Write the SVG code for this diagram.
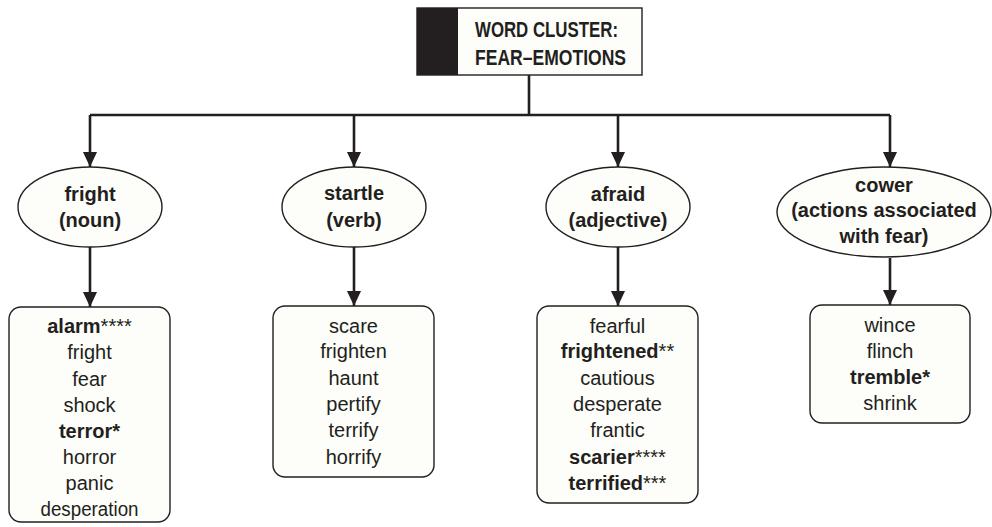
<svg xmlns="http://www.w3.org/2000/svg" width="992" height="527" viewBox="0 0 992 527">
<defs>
<marker id="arr" markerUnits="userSpaceOnUse" markerWidth="16" markerHeight="16" viewBox="0 0 16 16" refX="15" refY="8" orient="auto">
<path d="M0,1 L15,8 L0,15 Z" fill="#231f20"/>
</marker>
<style>
.shape{fill:#fdfdf9;stroke:#231f20;stroke-width:1.4}
.con{fill:none;stroke:#231f20;stroke-width:2.6}
.lbl{font-family:"Liberation Sans",Arial,sans-serif;font-size:20px;font-weight:bold;fill:#231f20;text-anchor:middle}
.w{font-family:"Liberation Sans",Arial,sans-serif;font-size:20px;fill:#231f20;text-anchor:middle}
.b{font-weight:bold}
.title{font-family:"Liberation Sans",Arial,sans-serif;font-size:22px;font-weight:bold;fill:#231f20}
</style>
</defs>
<rect width="992" height="527" fill="#ffffff"/>

<g id="title">
<rect x="417" y="8" width="225" height="67" fill="#fdfdf9" stroke="#231f20" stroke-width="1.4"/>
<rect x="417" y="8" width="41" height="67" fill="#231f20"/>
<text class="title" x="475" y="37" textLength="143" lengthAdjust="spacingAndGlyphs">WORD CLUSTER:</text>
<text class="title" x="475" y="65" textLength="151" lengthAdjust="spacingAndGlyphs">FEAR–EMOTIONS</text>
</g>

<g id="connectors">
<path class="con" d="M529,75 V115 M90,115 H890"/>
<path class="con" d="M90,115 V167" marker-end="url(#arr)"/>
<path class="con" d="M354,115 V167" marker-end="url(#arr)"/>
<path class="con" d="M618,115 V167" marker-end="url(#arr)"/>
<path class="con" d="M890,115 V167" marker-end="url(#arr)"/>
<path class="con" d="M90,247 V307" marker-end="url(#arr)"/>
<path class="con" d="M354,247 V306" marker-end="url(#arr)"/>
<path class="con" d="M618,247 V306" marker-end="url(#arr)"/>
<path class="con" d="M890,258 V305" marker-end="url(#arr)"/>
</g>

<g id="fright">
<ellipse class="shape" cx="90" cy="207" rx="72" ry="40"/>
<text class="lbl" x="90" y="201">fright</text>
<text class="lbl" x="90" y="227">(noun)</text>
</g>
<g id="startle">
<ellipse class="shape" cx="354" cy="207" rx="72" ry="40"/>
<text class="lbl" x="354" y="200">startle</text>
<text class="lbl" x="354" y="227">(verb)</text>
</g>
<g id="afraid">
<ellipse class="shape" cx="618" cy="207" rx="72" ry="40"/>
<text class="lbl" x="618" y="201">afraid</text>
<text class="lbl" x="618" y="227">(adjective)</text>
</g>
<g id="cower">
<ellipse class="shape" cx="884" cy="212" rx="107" ry="45"/>
<text class="lbl" x="884" y="192">cower</text>
<text class="lbl" x="884" y="217">(actions associated</text>
<text class="lbl" x="884" y="243">with fear)</text>
</g>

<g id="nouns">
<rect class="shape" x="9" y="307" width="161" height="215" rx="12"/>
<text class="w" x="89.5" y="333"><tspan class="b">alarm</tspan>****</text>
<text class="w" x="89.5" y="359">fright</text>
<text class="w" x="89.5" y="386">fear</text>
<text class="w" x="89.5" y="412">shock</text>
<text class="w" x="89.5" y="438"><tspan class="b">terror*</tspan></text>
<text class="w" x="89.5" y="464">horror</text>
<text class="w" x="89.5" y="490">panic</text>
<text class="w" x="89.5" y="516" textLength="98" lengthAdjust="spacingAndGlyphs">desperation</text>
</g>
<g id="verbs">
<rect class="shape" x="273" y="306" width="161" height="171" rx="12"/>
<text class="w" x="353.5" y="333">scare</text>
<text class="w" x="353.5" y="358">frighten</text>
<text class="w" x="353.5" y="385">haunt</text>
<text class="w" x="353.5" y="411">pertify</text>
<text class="w" x="353.5" y="437">terrify</text>
<text class="w" x="353.5" y="464">horrify</text>
</g>
<g id="adjectives">
<rect class="shape" x="537" y="306" width="161" height="197" rx="12"/>
<text class="w" x="617.5" y="333">fearful</text>
<text class="w" x="617.5" y="358"><tspan class="b">frightened</tspan>**</text>
<text class="w" x="617.5" y="385">cautious</text>
<text class="w" x="617.5" y="411">desperate</text>
<text class="w" x="617.5" y="437">frantic</text>
<text class="w" x="617.5" y="464"><tspan class="b">scarier</tspan>****</text>
<text class="w" x="617.5" y="490"><tspan class="b">terrified</tspan>***</text>
</g>
<g id="actions">
<rect class="shape" x="810" y="305" width="160" height="118" rx="12"/>
<text class="w" x="890" y="332">wince</text>
<text class="w" x="890" y="358">flinch</text>
<text class="w" x="890" y="384"><tspan class="b">tremble*</tspan></text>
<text class="w" x="890" y="410">shrink</text>
</g>
</svg>
